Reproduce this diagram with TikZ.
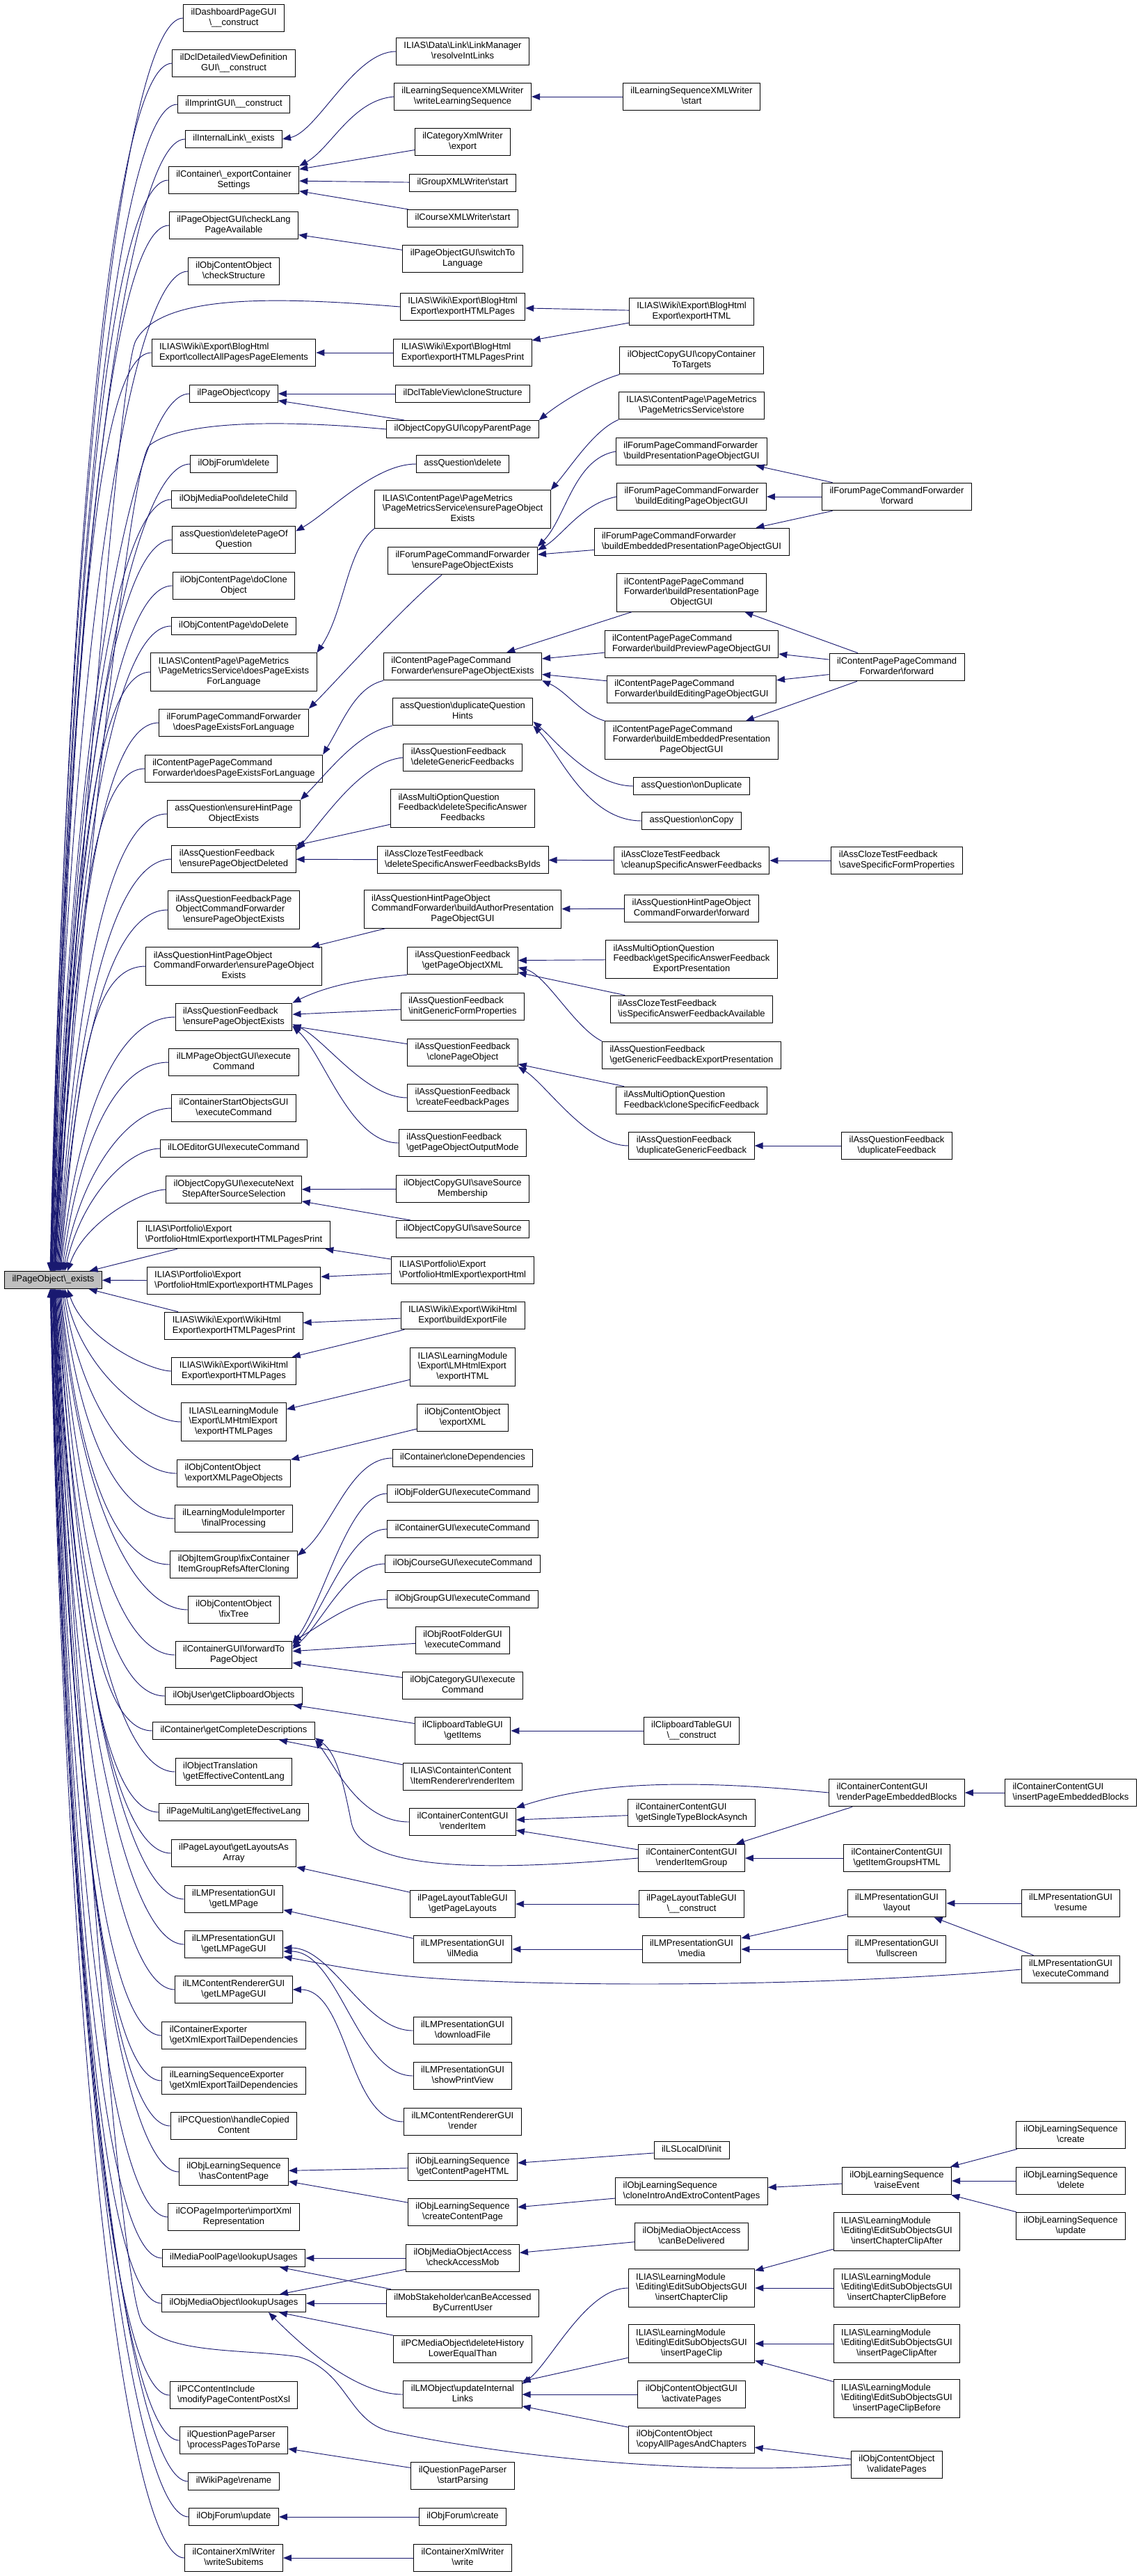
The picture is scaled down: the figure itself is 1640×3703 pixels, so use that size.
\documentclass[tikz,border=0pt]{standalone}
\usepackage{fontspec}
\setmainfont{Liberation Sans}
\usetikzlibrary{arrows.meta,calc}

\definecolor{callblue}{HTML}{191970}
\definecolor{focusgray}{HTML}{BFBFBF}

% label lines: all but the last left aligned, the last one centred
\newcommand{\bsl}{\textbackslash}
\newcommand{\oneln}[1]{\begin{tabular}{@{}c@{}}#1\end{tabular}}
\newcommand{\twoln}[2]{\begin{tabular}{@{}l@{}}#1\\\multicolumn{1}{@{}c@{}}{#2}\end{tabular}}
\newcommand{\threeln}[3]{\begin{tabular}{@{}l@{}}#1\\#2\\\multicolumn{1}{@{}c@{}}{#3}\end{tabular}}

\tikzset{
  fn/.style={draw=black, line width=0.75pt, fill=white, inner xsep=8.25pt, inner ysep=3.9pt,
    font=\fontsize{9.75}{11}\selectfont},
  calls/.style={draw=callblue, line width=0.7pt, -{Triangle[length=9pt,width=7pt]}}
}

\begin{document}
\begin{tikzpicture}[x=0.75pt,y=-0.75pt]
\useasboundingbox (0,0) rectangle (1640,3703);

% Called function
\node[fn,fill=focusgray] (ex) at (76.5,1840) {\oneln{ilPageObject\bsl\_exists}};

% Direct callers
\node[fn] (a1) at (336,26) {\twoln{ilDashboardPageGUI}{\bsl\_\_construct}};
\node[fn] (a2) at (336,91) {\twoln{ilDclDetailedViewDefinition}{GUI\bsl\_\_construct}};
\node[fn] (a3) at (336,150) {\oneln{ilImprintGUI\bsl\_\_construct}};
\node[fn] (a4) at (336,200) {\oneln{ilInternalLink\bsl\_exists}};
\node[fn] (a5) at (336,259) {\twoln{ilContainer\bsl\_exportContainer}{Settings}};
\node[fn] (a6) at (336,324) {\twoln{ilPageObjectGUI\bsl checkLang}{PageAvailable}};
\node[fn] (a7) at (336,390) {\twoln{ilObjContentObject}{\bsl checkStructure}};
\node[fn] (a8) at (336,507) {\twoln{ILIAS\bsl Wiki\bsl Export\bsl BlogHtml}{Export\bsl collectAllPagesPageElements}};
\node[fn] (a9) at (336,566) {\oneln{ilPageObject\bsl copy}};
\node[fn] (a10) at (336,667) {\oneln{ilObjForum\bsl delete}};
\node[fn] (a11) at (336,718) {\oneln{ilObjMediaPool\bsl deleteChild}};
\node[fn] (a12) at (336,776) {\twoln{assQuestion\bsl deletePageOf}{Question}};
\node[fn] (a13) at (336,842) {\twoln{ilObjContentPage\bsl doClone}{Object}};
\node[fn] (a14) at (336,900) {\oneln{ilObjContentPage\bsl doDelete}};
\node[fn] (a15) at (336,966) {\threeln{ILIAS\bsl ContentPage\bsl PageMetrics}{\bsl PageMetricsService\bsl doesPageExists}{ForLanguage}};
\node[fn] (a16) at (336,1039) {\twoln{ilForumPageCommandForwarder}{\bsl doesPageExistsForLanguage}};
\node[fn] (a17) at (336,1105) {\twoln{ilContentPagePageCommand}{Forwarder\bsl doesPageExistsForLanguage}};
\node[fn] (a18) at (336,1170) {\twoln{assQuestion\bsl ensureHintPage}{ObjectExists}};
\node[fn] (a19) at (336,1235) {\twoln{ilAssQuestionFeedback}{\bsl ensurePageObjectDeleted}};
\node[fn] (a20) at (336,1308) {\threeln{ilAssQuestionFeedbackPage}{ObjectCommandForwarder}{\bsl ensurePageObjectExists}};
\node[fn] (a21) at (336,1389) {\threeln{ilAssQuestionHintPageObject}{CommandForwarder\bsl ensurePageObject}{Exists}};
\node[fn] (a22) at (336,1462) {\twoln{ilAssQuestionFeedback}{\bsl ensurePageObjectExists}};
\node[fn] (a23) at (336,1527) {\twoln{ilLMPageObjectGUI\bsl execute}{Command}};
\node[fn] (a24) at (336,1593) {\twoln{ilContainerStartObjectsGUI}{\bsl executeCommand}};
\node[fn] (a25) at (336,1651) {\oneln{ilLOEditorGUI\bsl executeCommand}};
\node[fn] (a26) at (336,1710) {\twoln{ilObjectCopyGUI\bsl executeNext}{StepAfterSourceSelection}};
\node[fn] (a27) at (336,1775) {\twoln{ILIAS\bsl Portfolio\bsl Export}{\bsl PortfolioHtmlExport\bsl exportHTMLPagesPrint}};
\node[fn] (a28) at (336,1841) {\twoln{ILIAS\bsl Portfolio\bsl Export}{\bsl PortfolioHtmlExport\bsl exportHTMLPages}};
\node[fn] (a29) at (336,1906) {\twoln{ILIAS\bsl Wiki\bsl Export\bsl WikiHtml}{Export\bsl exportHTMLPagesPrint}};
\node[fn] (a30) at (336,1971) {\twoln{ILIAS\bsl Wiki\bsl Export\bsl WikiHtml}{Export\bsl exportHTMLPages}};
\node[fn] (a31) at (336,2044) {\threeln{ILIAS\bsl LearningModule}{\bsl Export\bsl LMHtmlExport}{\bsl exportHTMLPages}};
\node[fn] (a32) at (336,2118) {\twoln{ilObjContentObject}{\bsl exportXMLPageObjects}};
\node[fn] (a33) at (336,2183) {\twoln{ilLearningModuleImporter}{\bsl finalProcessing}};
\node[fn] (a34) at (336,2249) {\twoln{ilObjItemGroup\bsl fixContainer}{ItemGroupRefsAfterCloning}};
\node[fn] (a35) at (336,2314) {\twoln{ilObjContentObject}{\bsl fixTree}};
\node[fn] (a36) at (336,2379) {\twoln{ilContainerGUI\bsl forwardTo}{PageObject}};
\node[fn] (a37) at (336,2438) {\oneln{ilObjUser\bsl getClipboardObjects}};
\node[fn] (a38) at (336,2488) {\oneln{ilContainer\bsl getCompleteDescriptions}};
\node[fn] (a39) at (336,2547) {\twoln{ilObjectTranslation}{\bsl getEffectiveContentLang}};
\node[fn] (a40) at (336,2605) {\oneln{ilPageMultiLang\bsl getEffectiveLang}};
\node[fn] (a41) at (336,2664) {\twoln{ilPageLayout\bsl getLayoutsAs}{Array}};
\node[fn] (a42) at (336,2730) {\twoln{ilLMPresentationGUI}{\bsl getLMPage}};
\node[fn] (a43) at (336,2795) {\twoln{ilLMPresentationGUI}{\bsl getLMPageGUI}};
\node[fn] (a44) at (336,2860) {\twoln{ilLMContentRendererGUI}{\bsl getLMPageGUI}};
\node[fn] (a45) at (336,2926) {\twoln{ilContainerExporter}{\bsl getXmlExportTailDependencies}};
\node[fn] (a46) at (336,2991) {\twoln{ilLearningSequenceExporter}{\bsl getXmlExportTailDependencies}};
\node[fn] (a47) at (336,3056) {\twoln{ilPCQuestion\bsl handleCopied}{Content}};
\node[fn] (a48) at (336,3122) {\twoln{ilObjLearningSequence}{\bsl hasContentPage}};
\node[fn] (a49) at (336,3187) {\twoln{ilCOPageImporter\bsl importXml}{Representation}};
\node[fn] (a50) at (336,3246) {\oneln{ilMediaPoolPage\bsl lookupUsages}};
\node[fn] (a51) at (336,3311) {\oneln{ilObjMediaObject\bsl lookupUsages}};
\node[fn] (a52) at (336,3443) {\twoln{ilPCContentInclude}{\bsl modifyPageContentPostXsl}};
\node[fn] (a53) at (336,3508) {\twoln{ilQuestionPageParser}{\bsl processPagesToParse}};
\node[fn] (a54) at (336,3567) {\oneln{ilWikiPage\bsl rename}};
\node[fn] (a55) at (336,3618) {\oneln{ilObjForum\bsl update}};
\node[fn] (a56) at (336,3677) {\twoln{ilContainerXmlWriter}{\bsl writeSubitems}};

% Second level
\node[fn] (b1) at (665,74) {\twoln{ILIAS\bsl Data\bsl Link\bsl LinkManager}{\bsl resolveIntLinks}};
\node[fn] (b2) at (665,139) {\twoln{ilLearningSequenceXMLWriter}{\bsl writeLearningSequence}};
\node[fn] (b3) at (665,204) {\twoln{ilCategoryXmlWriter}{\bsl export}};
\node[fn] (b4) at (665,263) {\oneln{ilGroupXMLWriter\bsl start}};
\node[fn] (b5) at (665,314) {\oneln{ilCourseXMLWriter\bsl start}};
\node[fn] (b6) at (665,372) {\twoln{ilPageObjectGUI\bsl switchTo}{Language}};
\node[fn] (b7) at (665,441) {\twoln{ILIAS\bsl Wiki\bsl Export\bsl BlogHtml}{Export\bsl exportHTMLPages}};
\node[fn] (b8) at (665,507) {\twoln{ILIAS\bsl Wiki\bsl Export\bsl BlogHtml}{Export\bsl exportHTMLPagesPrint}};
\node[fn] (b9) at (665,566) {\oneln{ilDclTableView\bsl cloneStructure}};
\node[fn] (b10) at (665,617) {\oneln{ilObjectCopyGUI\bsl copyParentPage}};
\node[fn] (b11) at (665,667) {\oneln{assQuestion\bsl delete}};
\node[fn] (b12) at (665,732) {\threeln{ILIAS\bsl ContentPage\bsl PageMetrics}{\bsl PageMetricsService\bsl ensurePageObject}{Exists}};
\node[fn] (b13) at (665,806) {\twoln{ilForumPageCommandForwarder}{\bsl ensurePageObjectExists}};
\node[fn] (b14) at (665,958) {\twoln{ilContentPagePageCommand}{Forwarder\bsl ensurePageObjectExists}};
\node[fn] (b15) at (665,1023) {\twoln{assQuestion\bsl duplicateQuestion}{Hints}};
\node[fn] (b16) at (665,1089) {\twoln{ilAssQuestionFeedback}{\bsl deleteGenericFeedbacks}};
\node[fn] (b17) at (665,1162) {\threeln{ilAssMultiOptionQuestion}{Feedback\bsl deleteSpecificAnswer}{Feedbacks}};
\node[fn] (b18) at (665,1236) {\twoln{ilAssClozeTestFeedback}{\bsl deleteSpecificAnswerFeedbacksByIds}};
\node[fn] (b19) at (665,1307) {\threeln{ilAssQuestionHintPageObject}{CommandForwarder\bsl buildAuthorPresentation}{PageObjectGUI}};
\node[fn] (b20) at (665,1381) {\twoln{ilAssQuestionFeedback}{\bsl getPageObjectXML}};
\node[fn] (b21) at (665,1447) {\twoln{ilAssQuestionFeedback}{\bsl initGenericFormProperties}};
\node[fn] (b22) at (665,1513) {\twoln{ilAssQuestionFeedback}{\bsl clonePageObject}};
\node[fn] (b23) at (665,1578) {\twoln{ilAssQuestionFeedback}{\bsl createFeedbackPages}};
\node[fn] (b24) at (665,1643) {\twoln{ilAssQuestionFeedback}{\bsl getPageObjectOutputMode}};
\node[fn] (b25) at (665,1709) {\twoln{ilObjectCopyGUI\bsl saveSource}{Membership}};
\node[fn] (b26) at (665,1767) {\oneln{ilObjectCopyGUI\bsl saveSource}};
\node[fn] (b27) at (665,1826) {\twoln{ILIAS\bsl Portfolio\bsl Export}{\bsl PortfolioHtmlExport\bsl exportHtml}};
\node[fn] (b28) at (665,1891) {\twoln{ILIAS\bsl Wiki\bsl Export\bsl WikiHtml}{Export\bsl buildExportFile}};
\node[fn] (b29) at (665,1965) {\threeln{ILIAS\bsl LearningModule}{\bsl Export\bsl LMHtmlExport}{\bsl exportHTML}};
\node[fn] (b30) at (665,2038) {\twoln{ilObjContentObject}{\bsl exportXML}};
\node[fn] (b31) at (665,2096) {\oneln{ilContainer\bsl cloneDependencies}};
\node[fn] (b32) at (665,2147) {\oneln{ilObjFolderGUI\bsl executeCommand}};
\node[fn] (b33) at (665,2198) {\oneln{ilContainerGUI\bsl executeCommand}};
\node[fn] (b34) at (665,2248) {\oneln{ilObjCourseGUI\bsl executeCommand}};
\node[fn] (b35) at (665,2299) {\oneln{ilObjGroupGUI\bsl executeCommand}};
\node[fn] (b36) at (665,2358) {\twoln{ilObjRootFolderGUI}{\bsl executeCommand}};
\node[fn] (b37) at (665,2423) {\twoln{ilObjCategoryGUI\bsl execute}{Command}};
\node[fn] (b38) at (665,2488) {\twoln{ilClipboardTableGUI}{\bsl getItems}};
\node[fn] (b39) at (665,2554) {\twoln{ILIAS\bsl Containter\bsl Content}{\bsl ItemRenderer\bsl renderItem}};
\node[fn] (b40) at (665,2619) {\twoln{ilContainerContentGUI}{\bsl renderItem}};
\node[fn] (b41) at (665,2737) {\twoln{ilPageLayoutTableGUI}{\bsl getPageLayouts}};
\node[fn] (b42) at (665,2802) {\twoln{ilLMPresentationGUI}{\bsl ilMedia}};
\node[fn] (b43) at (665,2919) {\twoln{ilLMPresentationGUI}{\bsl downloadFile}};
\node[fn] (b44) at (665,2984) {\twoln{ilLMPresentationGUI}{\bsl showPrintView}};
\node[fn] (b45) at (665,3050) {\twoln{ilLMContentRendererGUI}{\bsl render}};
\node[fn] (b46) at (665,3115) {\twoln{ilObjLearningSequence}{\bsl getContentPageHTML}};
\node[fn] (b47) at (665,3180) {\twoln{ilObjLearningSequence}{\bsl createContentPage}};
\node[fn] (b48) at (665,3246) {\twoln{ilObjMediaObjectAccess}{\bsl checkAccessMob}};
\node[fn] (b49) at (665,3311) {\twoln{ilMobStakeholder\bsl canBeAccessed}{ByCurrentUser}};
\node[fn] (b50) at (665,3377) {\twoln{ilPCMediaObject\bsl deleteHistory}{LowerEqualThan}};
\node[fn] (b51) at (665,3442) {\twoln{ilLMObject\bsl updateInternal}{Links}};
\node[fn] (b52) at (665,3559) {\twoln{ilQuestionPageParser}{\bsl startParsing}};
\node[fn] (b53) at (665,3618) {\oneln{ilObjForum\bsl create}};
\node[fn] (b54) at (665,3677) {\twoln{ilContainerXmlWriter}{\bsl write}};

% Third level
\node[fn] (c1) at (994,139) {\twoln{ilLearningSequenceXMLWriter}{\bsl start}};
\node[fn] (c2) at (994,448) {\twoln{ILIAS\bsl Wiki\bsl Export\bsl BlogHtml}{Export\bsl exportHTML}};
\node[fn] (c3) at (994,518) {\twoln{ilObjectCopyGUI\bsl copyContainer}{ToTargets}};
\node[fn] (c4) at (994,583) {\twoln{ILIAS\bsl ContentPage\bsl PageMetrics}{\bsl PageMetricsService\bsl store}};
\node[fn] (c5) at (994,649) {\twoln{ilForumPageCommandForwarder}{\bsl buildPresentationPageObjectGUI}};
\node[fn] (c6) at (994,714) {\twoln{ilForumPageCommandForwarder}{\bsl buildEditingPageObjectGUI}};
\node[fn] (c7) at (994,779) {\twoln{ilForumPageCommandForwarder}{\bsl buildEmbeddedPresentationPageObjectGUI}};
\node[fn] (c8) at (994,852) {\threeln{ilContentPagePageCommand}{Forwarder\bsl buildPresentationPage}{ObjectGUI}};
\node[fn] (c9) at (994,926) {\twoln{ilContentPagePageCommand}{Forwarder\bsl buildPreviewPageObjectGUI}};
\node[fn] (c10) at (994,991) {\twoln{ilContentPagePageCommand}{Forwarder\bsl buildEditingPageObjectGUI}};
\node[fn] (c11) at (994,1064) {\threeln{ilContentPagePageCommand}{Forwarder\bsl buildEmbeddedPresentation}{PageObjectGUI}};
\node[fn] (c12) at (994,1130) {\oneln{assQuestion\bsl onDuplicate}};
\node[fn] (c13) at (994,1180) {\oneln{assQuestion\bsl onCopy}};
\node[fn] (c14) at (994,1237) {\twoln{ilAssClozeTestFeedback}{\bsl cleanupSpecificAnswerFeedbacks}};
\node[fn] (c15) at (994,1306) {\twoln{ilAssQuestionHintPageObject}{CommandForwarder\bsl forward}};
\node[fn] (c16) at (994,1379) {\threeln{ilAssMultiOptionQuestion}{Feedback\bsl getSpecificAnswerFeedback}{ExportPresentation}};
\node[fn] (c17) at (994,1451) {\twoln{ilAssClozeTestFeedback}{\bsl isSpecificAnswerFeedbackAvailable}};
\node[fn] (c18) at (994,1517) {\twoln{ilAssQuestionFeedback}{\bsl getGenericFeedbackExportPresentation}};
\node[fn] (c19) at (994,1582) {\twoln{ilAssMultiOptionQuestion}{Feedback\bsl cloneSpecificFeedback}};
\node[fn] (c20) at (994,1647) {\twoln{ilAssQuestionFeedback}{\bsl duplicateGenericFeedback}};
\node[fn] (c21) at (994,2488) {\twoln{ilClipboardTableGUI}{\bsl\_\_construct}};
\node[fn] (c22) at (994,2606) {\twoln{ilContainerContentGUI}{\bsl getSingleTypeBlockAsynch}};
\node[fn] (c23) at (994,2671) {\twoln{ilContainerContentGUI}{\bsl renderItemGroup}};
\node[fn] (c24) at (994,2737) {\twoln{ilPageLayoutTableGUI}{\bsl\_\_construct}};
\node[fn] (c25) at (994,2802) {\twoln{ilLMPresentationGUI}{\bsl media}};
\node[fn] (c26) at (994,3091) {\oneln{ilLSLocalDI\bsl init}};
\node[fn] (c27) at (994,3150) {\twoln{ilObjLearningSequence}{\bsl cloneIntroAndExtroContentPages}};
\node[fn] (c28) at (994,3215) {\twoln{ilObjMediaObjectAccess}{\bsl canBeDelivered}};
\node[fn] (c29) at (994,3289) {\threeln{ILIAS\bsl LearningModule}{\bsl Editing\bsl EditSubObjectsGUI}{\bsl insertChapterClip}};
\node[fn] (c30) at (994,3369) {\threeln{ILIAS\bsl LearningModule}{\bsl Editing\bsl EditSubObjectsGUI}{\bsl insertPageClip}};
\node[fn] (c31) at (994,3442) {\twoln{ilObjContentObjectGUI}{\bsl activatePages}};
\node[fn] (c32) at (994,3507) {\twoln{ilObjContentObject}{\bsl copyAllPagesAndChapters}};

% Fourth level
\node[fn] (d1) at (1289,714) {\twoln{ilForumPageCommandForwarder}{\bsl forward}};
\node[fn] (d2) at (1289,959) {\twoln{ilContentPagePageCommand}{Forwarder\bsl forward}};
\node[fn] (d3) at (1289,1237) {\twoln{ilAssClozeTestFeedback}{\bsl saveSpecificFormProperties}};
\node[fn] (d4) at (1289,1647) {\twoln{ilAssQuestionFeedback}{\bsl duplicateFeedback}};
\node[fn] (d5) at (1289,2577) {\twoln{ilContainerContentGUI}{\bsl renderPageEmbeddedBlocks}};
\node[fn] (d6) at (1289,2671) {\twoln{ilContainerContentGUI}{\bsl getItemGroupsHTML}};
\node[fn] (d7) at (1289,2736) {\twoln{ilLMPresentationGUI}{\bsl layout}};
\node[fn] (d8) at (1289,2802) {\twoln{ilLMPresentationGUI}{\bsl fullscreen}};
\node[fn] (d9) at (1289,3135) {\twoln{ilObjLearningSequence}{\bsl raiseEvent}};
\node[fn] (d10) at (1289,3208) {\threeln{ILIAS\bsl LearningModule}{\bsl Editing\bsl EditSubObjectsGUI}{\bsl insertChapterClipAfter}};
\node[fn] (d11) at (1289,3289) {\threeln{ILIAS\bsl LearningModule}{\bsl Editing\bsl EditSubObjectsGUI}{\bsl insertChapterClipBefore}};
\node[fn] (d12) at (1289,3369) {\threeln{ILIAS\bsl LearningModule}{\bsl Editing\bsl EditSubObjectsGUI}{\bsl insertPageClipAfter}};
\node[fn] (d13) at (1289,3448) {\threeln{ILIAS\bsl LearningModule}{\bsl Editing\bsl EditSubObjectsGUI}{\bsl insertPageClipBefore}};
\node[fn] (d14) at (1289,3543) {\twoln{ilObjContentObject}{\bsl validatePages}};

% Fifth level
\node[fn] (f1) at (1539,2577) {\twoln{ilContainerContentGUI}{\bsl insertPageEmbeddedBlocks}};
\node[fn] (f2) at (1539,2736) {\twoln{ilLMPresentationGUI}{\bsl resume}};
\node[fn] (f3) at (1539,2831) {\twoln{ilLMPresentationGUI}{\bsl executeCommand}};
\node[fn] (f4) at (1539,3069) {\twoln{ilObjLearningSequence}{\bsl create}};
\node[fn] (f5) at (1539,3135) {\twoln{ilObjLearningSequence}{\bsl delete}};
\node[fn] (f6) at (1539,3200) {\twoln{ilObjLearningSequence}{\bsl update}};

% Fan into the called function, from above
\foreach \nd/\tx in {a1/-4.5, a2/-4, a3/-3.5, a4/-3, a5/-2.5, a6/-2, a7/-1.5, a8/-0.5, a9/0,
    a10/1, a11/1.5, a12/2, a13/2.5, a14/3, a15/3.5, a16/4.5, a17/5.5, a18/6.5, a19/7.5,
    a20/8.5, a21/9.5, a22/10.5, a23/12.5, a24/14.5, a25/16.5, a26/20.5}
  \draw[calls] let \p1=(\nd.west), \p2=($(ex.north)+(\tx,0)$),
    \n1={min(62pt,0.25*((\y1)-(\y2)))}, \n2={0.625*((\y1)-(\y2))} in
    (\p1) .. controls ({\x1-\n1},\y1) and ({\x2+19pt},{\y2+\n2}) .. (\p2);

% Fan into the called function, from below
\foreach \nd/\tx in {a30/20.5, a31/16.5, a32/14.5, a33/12.5, a34/10.5, a35/9.5, a36/8.5,
    a37/7.5, a38/6.5, a39/5.5, a40/4.5, a41/3.5, a42/3, a43/2.5, a44/2, a45/1.5, a46/1,
    a47/0.5, a48/0, a49/-0.5, a50/-1, a51/-1.5, a52/-2.5, a53/-3, a54/-3.5, a55/-4, a56/-4.5}
  \draw[calls] let \p1=(\nd.west), \p2=($(ex.south)+(\tx,0)$),
    \n1={min(62pt,0.25*((\y2)-(\y1)))}, \n2={0.625*((\y2)-(\y1))} in
    (\p1) .. controls ({\x1-\n1},\y1) and ({\x2+19pt},{\y2-\n2}) .. (\p2);

\draw[calls] (a27) -- (ex);
\draw[calls] (a28) -- (ex);
\draw[calls] (a29) -- (ex);

% Long calls straight into the called function
\draw[calls] (b7.west) .. controls (380,425) and (230,425) .. (195,490)
  .. controls (170,537) and (105,1400) .. ($(ex.north)+(-1,0)$);
\draw[calls] (b10.west) .. controls (400,603) and (260,605) .. (215,640)
  .. controls (185,665) and (110,1400) .. ($(ex.north)+(0.5,0)$);
\draw[calls] (d14.west) .. controls (1000,3560) and (720,3530) .. (560,3495)
  .. controls (500,3480) and (500,3410) .. (430,3388)
  .. controls (350,3376) and (240,3385) .. (205,3340)
  .. controls (170,3290) and (110,2400) .. ($(ex.south)+(-2,0)$);

% Second level calls
\draw[calls] (b1.west) .. controls +(-60,0) and +(50,-10) .. (a4.east);
\draw[calls] (b2.west) .. controls +(-60,5) and +(45,-25) .. (a5.north east);
\draw[calls] (b3) -- (a5);
\draw[calls] (b4) -- (a5);
\draw[calls] (b5) -- (a5);
\draw[calls] (b6) -- (a6);
\draw[calls] (b8) -- (a8);
\draw[calls] (b9) -- (a9);
\draw[calls] (b10) -- (a9);
\draw[calls] (b11.west) .. controls +(-60,0) and +(45,-25) .. (a12.8);
\draw[calls] (b12.south west) .. controls +(-40,30) and +(40,-60) .. (a15.north east);
\draw[calls] ($(b13.south)+(-30,0)$) .. controls +(-60,50) and +(40,-40) .. (a16.north east);
\draw[calls] (b14.south west) .. controls +(-40,10) and +(30,-50) .. (a17.north east);
\draw[calls] (b15.south west) .. controls +(-50,10) and +(40,-40) .. (a18.north east);
\draw[calls] (b16.west) .. controls +(-60,5) and +(40,-45) .. (a19.8);
\draw[calls] (b17) -- (a19);
\draw[calls] (b18) -- (a19);
\draw[calls] (b19) -- (a21);
\draw[calls] (b20.south west) .. controls +(-60,5) and +(50,-25) .. (a22.north east);
\draw[calls] (b21) -- (a22);
\draw[calls] (b22) -- (a22);
\draw[calls] (b23.west) .. controls +(-60,0) and +(45,20) .. (a22.-7);
\draw[calls] (b24.west) .. controls +(-70,0) and +(45,40) .. (a22.-9);
\draw[calls] (b25) -- (a26);
\draw[calls] (b26) -- (a26);
\draw[calls] (b27) -- (a27);
\draw[calls] (b27) -- (a28);
\draw[calls] (b28) -- (a29);
\draw[calls] (b28) -- (a30);
\draw[calls] (b29) -- (a31);
\draw[calls] (b30) -- (a32);
\draw[calls] (b31.west) .. controls +(-60,0) and +(50,-40) .. (a34.8);
\draw[calls] (b32.west) .. controls +(-55,0) and +(45,-60) .. (a36.11);
\draw[calls] (b33.west) .. controls +(-55,0) and +(45,-50) .. (a36.8);
\draw[calls] (b34.west) .. controls +(-55,0) and +(45,-40) .. (a36.6);
\draw[calls] (b35.west) .. controls +(-50,0) and +(45,-25) .. (a36.13);
\draw[calls] (b36) -- (a36);
\draw[calls] (b37) -- (a36);
\draw[calls] (b38) -- (a37);
\draw[calls] (b39) -- (a38);
\draw[calls] (b40.west) .. controls +(-70,0) and +(30,40) .. (a38.south east);
\draw[calls] (b41) -- (a41);
\draw[calls] (b42) -- (a42);
\draw[calls] (b43.west) .. controls +(-70,0) and +(70,0) .. (a43.-4);
\draw[calls] (b44.west) .. controls +(-80,0) and +(80,0) .. (a43.-8);
\draw[calls] (b45.west) .. controls +(-80,0) and +(80,0) .. (a44.east);
\draw[calls] (b46) -- (a48);
\draw[calls] (b47) -- (a48);
\draw[calls] (b48) -- (a50);
\draw[calls] (b48) -- (a51);
\draw[calls] (b49) -- (a50);
\draw[calls] (b49) -- (a51);
\draw[calls] (b50) -- (a51);
\draw[calls] (b51.west) .. controls +(-70,0) and +(45,45) .. ($(a51.south)+(50,0)$);
\draw[calls] (b52) -- (a53);
\draw[calls] (b53) -- (a55);
\draw[calls] (b54) -- (a56);

% Third level calls
\draw[calls] (c1) -- (b2);
\draw[calls] (c2) -- (b7);
\draw[calls] (c2) -- (b8);
\draw[calls] (c3.south west) .. controls +(-35,10) and +(30,-25) .. (b10.north east);
\draw[calls] (c4.south west) .. controls +(-35,15) and +(30,-35) .. (b12.north east);
\draw[calls] (c5.west) .. controls +(-60,10) and +(40,-40) .. (b13.north east);
\draw[calls] (c6.west) .. controls +(-50,10) and +(35,-20) .. (b13.8);
\draw[calls] (c7) -- (b13);
\draw[calls] (c8) -- (b14);
\draw[calls] (c9) -- (b14);
\draw[calls] (c10) -- (b14);
\draw[calls] (c11.north west) .. controls +(-35,-10) and +(35,15) .. (b14.south east);
\draw[calls] (c12.west) .. controls +(-60,0) and +(30,25) .. (b15.-8);
\draw[calls] (c13.west) .. controls +(-80,0) and +(35,35) .. (b15.south east);
\draw[calls] (c14) -- (b18);
\draw[calls] (c15) -- (b19);
\draw[calls] (c16) -- (b20);
\draw[calls] (c17) -- (b20);
\draw[calls] (c18.north west) .. controls +(-40,-20) and +(40,10) .. (b20.-7);
\draw[calls] (c19) -- (b22);
\draw[calls] (c20.west) .. controls +(-60,0) and +(40,25) .. (b22.south east);
\draw[calls] (c21) -- (b38);
\draw[calls] (c22) -- (b40);
\draw[calls] (c23) -- (b40);
\draw[calls] (c23.west) .. controls (700,2690) and (520,2690) .. (505,2620)
  .. controls (495,2570) and (485,2520) .. (a38.-5);
\draw[calls] (c24) -- (b41);
\draw[calls] (c25) -- (b42);
\draw[calls] (c26) -- (b46);
\draw[calls] (c27) -- (b47);
\draw[calls] (c28) -- (b48);
\draw[calls] (c29.west) .. controls +(-60,0) and +(40,-30) .. (b51.10);
\draw[calls] (c30) -- (b51);
\draw[calls] (c31) -- (b51);
\draw[calls] (c32) -- (b51);

% Fourth level calls
\draw[calls] (d1) -- (c5);
\draw[calls] (d1) -- (c6);
\draw[calls] (d1) -- (c7);
\draw[calls] (d2) -- (c8);
\draw[calls] (d2) -- (c9);
\draw[calls] (d2) -- (c10);
\draw[calls] (d2) -- (c11);
\draw[calls] (d3) -- (c14);
\draw[calls] (d4) -- (c20);
\draw[calls] (d5.west) .. controls (1000,2558) and (860,2560) .. (b40.north east);
\draw[calls] (d5) -- (c23);
\draw[calls] (d6) -- (c23);
\draw[calls] (d7) -- (c25);
\draw[calls] (d8) -- (c25);
\draw[calls] (d9) -- (c27);
\draw[calls] (d10) -- (c29);
\draw[calls] (d11) -- (c29);
\draw[calls] (d12) -- (c30);
\draw[calls] (d13) -- (c30);
\draw[calls] (d14) -- (c32);

% Fifth level calls
\draw[calls] (f1) -- (d5);
\draw[calls] (f2) -- (d7);
\draw[calls] (f3) -- (d7);
\draw[calls] (f3.west) .. controls (1200,2855) and (800,2858) .. (600,2842)
  .. controls (520,2835) and (460,2822) .. (a43.-14);
\draw[calls] (f4) -- (d9);
\draw[calls] (f5) -- (d9);
\draw[calls] (f6) -- (d9);
\end{tikzpicture}
\end{document}
